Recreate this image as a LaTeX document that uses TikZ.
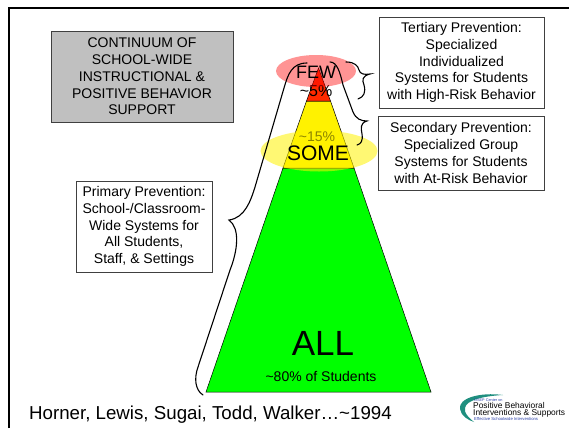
\documentclass[tikz,border=0pt]{standalone}
\usepackage{fontspec}
\setmainfont{Liberation Sans}
\usetikzlibrary{shapes,arrows}
\definecolor{boxline}{HTML}{404040}
\definecolor{boxgray}{HTML}{C0C0C0}
\definecolor{tealarc}{HTML}{1F8F7F}
\definecolor{logoblue}{HTML}{2A3FA8}
\tikzstyle{block} = [draw=boxline, fill=white, rectangle, line width=0.9pt, align=center,
    inner sep=0pt, font=\fontsize{14}{16.8}\selectfont]
\tikzstyle{bracket} = [draw=black, line width=1.1pt, line cap=round]
\tikzstyle{blob} = [ellipse, inner sep=0pt]
\tikzstyle{tier} = [draw=black, line width=0.5pt]
\tikzstyle{small} = [font=\fontsize{14}{15}\selectfont, inner sep=0pt]

\begin{document}
\begin{tikzpicture}[x=1pt,y=-1pt]
\useasboundingbox (0,0) rectangle (569,428);
 \coordinate (T) at (318.5,68);
 \coordinate (BL) at (206,392);
 \coordinate (BR) at (431,392);
 \coordinate (RL) at (306.5,101);
 \coordinate (RR) at (330.5,101);
 \coordinate (YL) at (283,168);
 \coordinate (YR) at (354,168);

\draw[line width=2pt, black] (9,428) -- (9,8.5) -- (569,8.5);

\draw[tier, fill=green] (YL) -- (YR) -- (BR) -- (BL) -- cycle;
\draw[tier, fill=yellow] (RL) -- (RR) -- (YR) -- (YL) -- cycle;
\draw[tier, fill={rgb,255:red,255;green,42;blue,0}] (T) -- (RR) -- (RL) -- cycle;

\node[small, name=fivepct, font=\fontsize{16}{17}\selectfont] at (316,91) {\textasciitilde5\%};
\node[small, name=fifteenpct] at (317,137) {\textasciitilde15\%};

\node[blob, name=fewblob, fill=red, fill opacity=0.42, minimum width=80pt, minimum height=32pt] at (316,71) {};
\node[blob, name=someblob, fill=yellow, fill opacity=0.55, minimum width=117pt, minimum height=41pt] at (319,151) {};

\node[inner sep=0pt, font=\fontsize{18}{20}\selectfont, name=few] at (316,72) {FEW};
\node[inner sep=0pt, font=\fontsize{21}{22}\selectfont, name=some] at (318,153) {SOME};
\node[font=\fontsize{35}{36}\selectfont, inner sep=0pt, name=all] at (323,343) {ALL};
\node[small, name=eighty] at (321,376) {\textasciitilde80\% of Students};

\node[block, name=title, fill=boxgray, minimum width=182pt, minimum height=91pt] at (142,76.5)
 {CONTINUUM OF\\SCHOOL-WIDE\\INSTRUCTIONAL \&\\POSITIVE BEHAVIOR\\SUPPORT};
\node[block, name=primary, minimum width=136pt, minimum height=91pt] at (144,226.5)
 {Primary Prevention:\\School-/Classroom-\\Wide Systems for\\All Students,\\Staff, \& Settings};
\node[block, name=tertiary, minimum width=165pt, minimum height=91pt] at (461.5,62.5)
 {Tertiary Prevention:\\Specialized\\Individualized\\Systems for Students\\with High-Risk Behavior};
\node[block, name=secondary, minimum width=166pt, minimum height=74pt] at (461,153)
 {Secondary Prevention:\\Specialized Group\\Systems for Students\\with At-Risk Behavior};

\draw[bracket] (203,395) .. controls (195,390) and (194,378) .. (198,367)
  -- (230,270) .. controls (238,250) and (240,228) .. (229,220)
  .. controls (245,218) and (251,200) .. (255,187)
  -- (284,88) .. controls (288,74) and (292,63) .. (307,63);
\draw[bracket] (330,62) .. controls (337,62) and (340,72) .. (343,85)
  -- (353,112) .. controls (356,119) and (361,121) .. (367,121)
  .. controls (360,123) and (361,128) .. (362,134)
  .. controls (363,141) and (361,144) .. (357,145);
\draw[bracket] (346,62) .. controls (355,62) and (358,66) .. (359,70)
  .. controls (360,74) and (364,75) .. (370,74)
  .. controls (362,76) and (362,80) .. (364,85)
  .. controls (366,92) and (364,97) .. (358,99);

\node[anchor=west, inner sep=0pt, font=\fontsize{18.7}{20}\selectfont, name=credit] at (29,415)
 {Horner, Lewis, Sugai, Todd, Walker…\textasciitilde1994};

\fill[tealarc] (503,395) .. controls (480,392) and (458,398) .. (460,409)
  .. controls (461,416) and (468,420) .. (474,422)
  .. controls (468,417) and (464,413) .. (465,408)
  .. controls (466,400) and (484,396) .. (503,395) -- cycle;
\node[anchor=west, inner sep=0pt, font=\fontsize{3.8}{4}\selectfont, text=logoblue, name=osep] at (474,400) {OSEP Center on};
\node[anchor=west, inner sep=0pt, font=\fontsize{8.4}{9}\selectfont, name=pbis] at (473,405.5) {Positive Behavioral};
\node[anchor=west, inner sep=0pt, font=\fontsize{8.4}{9}\selectfont, name=supports] at (473,413.5) {Interventions \& Supports};
\node[anchor=west, inner sep=0pt, font=\fontsize{4.2}{5}\selectfont, text=logoblue, name=effective] at (474,419) {Effective Schoolwide Interventions};
\end{tikzpicture}
\end{document}
